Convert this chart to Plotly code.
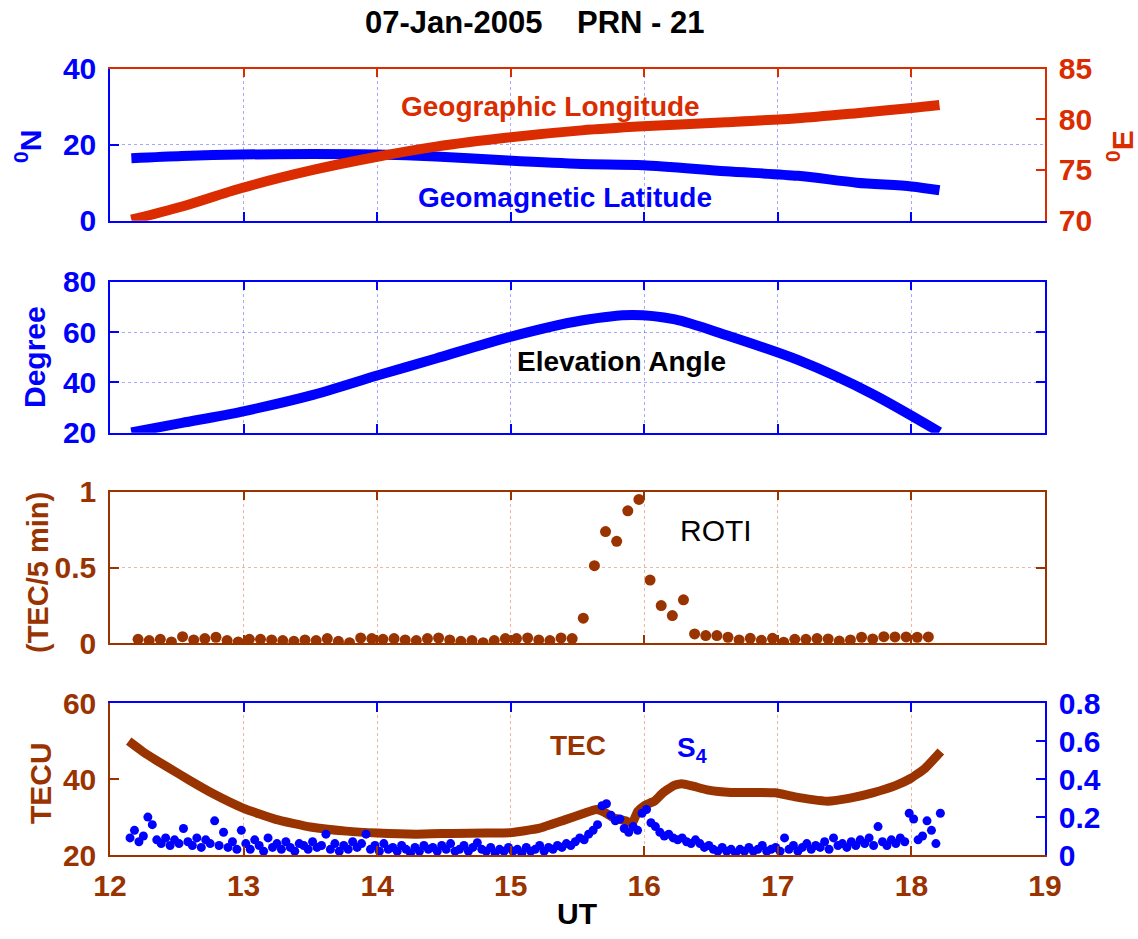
import plotly.graph_objects as go

# ---------------- data ----------------
# Panel 1: satellite track (UT hours)
track_ut = [12.16, 12.54, 12.98, 13.52, 14.00, 14.44, 14.98, 15.53, 15.99,
            16.61, 17.15, 17.59, 18.00, 18.21]
geomag_lat = [16.4, 17.0, 17.4, 17.5, 17.4, 16.9, 15.8, 14.9, 14.6,
              13.0, 11.8, 10.0, 9.0, 8.0]
geog_lon = [70.1, 71.4, 73.2, 75.0, 76.3, 77.3, 78.2, 78.9, 79.3,
            79.7, 80.1, 80.6, 81.1, 81.4]

# Panel 2: elevation angle
elev_ut = [12.16, 12.54, 12.98, 13.52, 14.00, 14.44, 14.98, 15.53, 15.91,
           16.23, 16.61, 17.15, 17.70, 18.21]
elevation = [20.1, 23.9, 28.3, 35.0, 42.7, 49.5, 57.9, 64.6, 66.8,
             65.0, 58.8, 48.9, 35.6, 20.3]

# Panel 3: ROTI, one value every 5 minutes starting 12.21 UT
roti_start = 12.21
roti_step_min = 5
roti = [0.026, 0.018, 0.026, 0.009, 0.044, 0.022, 0.031, 0.040, 0.018, 0.009,
        0.026, 0.026, 0.022, 0.018, 0.013, 0.022, 0.018, 0.031, 0.013, 0.004,
        0.035, 0.031, 0.026, 0.031, 0.022, 0.018, 0.031, 0.035, 0.022, 0.013,
        0.018, 0.004, 0.018, 0.031, 0.031, 0.035, 0.022, 0.018, 0.035, 0.031,
        0.166, 0.512, 0.737, 0.673, 0.874, 0.949, 0.417, 0.249, 0.183, 0.287,
        0.062, 0.051, 0.051, 0.040, 0.022, 0.033, 0.020, 0.033, 0.007, 0.026,
        0.026, 0.031, 0.029, 0.015, 0.022, 0.040, 0.029, 0.044, 0.042, 0.042,
        0.040, 0.042]

# Panel 4: vertical TEC (TECU)
tec_ut = [12.14, 12.24, 12.35, 12.45, 12.59, 12.77, 13.00, 13.24, 13.50, 13.77,
          14.00, 14.29, 14.56, 14.82, 15.00, 15.21, 15.40, 15.55, 15.64, 15.70,
          15.77, 15.86, 15.91, 15.95, 16.00, 16.08, 16.14, 16.22, 16.28, 16.36,
          16.48, 16.65, 16.84, 16.98, 17.12, 17.26, 17.37, 17.54, 17.71, 17.88,
          17.99, 18.10, 18.22]
tec = [50.0, 47.4, 44.9, 42.8, 39.8, 36.2, 32.3, 29.4, 27.4, 26.3,
       25.8, 25.5, 25.7, 25.8, 25.9, 27.0, 29.2, 31.0, 32.0, 31.3,
       29.8, 29.0, 28.4, 31.5, 33.0, 34.3, 36.4, 38.3, 38.8, 38.2,
       37.1, 36.5, 36.5, 36.4, 35.4, 34.6, 34.2, 35.0, 36.4, 38.3,
       40.1, 42.8, 47.3]

# Panel 4: amplitude scintillation index S4, one value every 2 minutes from 12.15 UT
s4_start = 12.15
s4_step_min = 2
s4 = [0.09, 0.13, 0.07, 0.10, 0.20, 0.16, 0.08, 0.06, 0.09, 0.05,
      0.08, 0.06, 0.14, 0.07, 0.05, 0.09, 0.04, 0.08, 0.06, 0.18,
      0.05, 0.12, 0.04, 0.07, 0.03, 0.13, 0.06, 0.03, 0.08, 0.05,
      0.02, 0.09, 0.04, 0.06, 0.03, 0.07, 0.04, 0.02, 0.06, 0.05,
      0.03, 0.07, 0.04, 0.05, 0.11, 0.03, 0.06, 0.02, 0.05, 0.03,
      0.07, 0.04, 0.06, 0.11, 0.03, 0.05, 0.02, 0.06, 0.03, 0.04,
      0.02, 0.05, 0.03, 0.01, 0.04, 0.02, 0.05, 0.03, 0.04, 0.02,
      0.05, 0.03, 0.06, 0.02, 0.03, 0.05, 0.02, 0.04, 0.065, 0.03,
      0.02, 0.04, 0.01, 0.03, 0.02, 0.04, 0.02, 0.03, 0.01, 0.04,
      0.02, 0.03, 0.05, 0.02, 0.04, 0.03, 0.05, 0.04, 0.06, 0.05,
      0.07, 0.09, 0.08, 0.11, 0.13, 0.16, 0.26, 0.27, 0.21, 0.18,
      0.19, 0.14, 0.12, 0.15, 0.13, 0.22, 0.24, 0.17, 0.15, 0.12,
      0.10, 0.11, 0.09, 0.08, 0.09, 0.07, 0.06, 0.08, 0.06, 0.04,
      0.05, 0.03, 0.02, 0.04, 0.02, 0.03, 0.01, 0.03, 0.02, 0.04,
      0.02, 0.03, 0.05, 0.02, 0.03, 0.04, 0.02, 0.09, 0.03, 0.05,
      0.02, 0.04, 0.06, 0.03, 0.05, 0.04, 0.07, 0.03, 0.09, 0.05,
      0.06, 0.04, 0.07, 0.05, 0.08, 0.06, 0.09, 0.05, 0.15, 0.07,
      0.05, 0.08, 0.06, 0.09, 0.07, 0.22, 0.19, 0.08, 0.10, 0.18,
      0.13, 0.06, 0.22]

roti_ut = [roti_start + i * roti_step_min / 60 for i in range(len(roti))]
s4_ut = [s4_start + i * s4_step_min / 60 for i in range(len(s4))]

# ---------------- styling ----------------
W, H = 1138, 939
FONT = "Liberation Sans"
BLUE = "#0000FF"
RED = "#DA2C00"
BROWN = "#993300"
BLACK = "#000000"
GRID_BLUE = "rgba(60,60,255,0.45)"
GRID_ORANGE = "rgba(230,120,90,0.55)"

X_DOM = [110 / W, 1045 / W]


def ydom(top_px, bottom_px):
    return [1 - bottom_px / H, 1 - top_px / H]


P1 = ydom(68.5, 220.7)
P2 = ydom(281.7, 432.7)
P3 = ydom(491.7, 643.3)
P4 = ydom(703.3, 855.0)

TICKFONT = dict(family=FONT, size=30, weight="bold")


def xaxis(anchor, color, labels=False, grid=None, side="bottom", overlay=None, mirror=False):
    d = dict(domain=X_DOM, anchor=anchor, range=[12, 19], tick0=12, dtick=1,
             ticks="inside", ticklen=9, tickwidth=1.5, tickcolor=color,
             showline=True, linecolor=color, linewidth=1.5, mirror=mirror,
             showticklabels=labels, tickfont=dict(TICKFONT, color=BROWN),
             ticklabelstandoff=3, automargin=False,
             showgrid=grid is not None, gridcolor=grid, griddash="dot", gridwidth=1,
             zeroline=False, fixedrange=True, side=side)
    if overlay:
        d["overlaying"] = overlay
    return d


def yaxis(anchor, dom, rng, dtick, color, grid=None, side="left", overlay=None, mirror=False):
    d = dict(domain=dom, anchor=anchor, range=rng, tick0=rng[0], dtick=dtick,
             ticks="inside", ticklen=9, tickwidth=1.5, tickcolor=color,
             showline=True, linecolor=color, linewidth=1.5, mirror=mirror,
             tickfont=dict(TICKFONT, color=color), ticklabelstandoff=6, automargin=False,
             showgrid=grid is not None, gridcolor=grid, griddash="dot", gridwidth=1,
             zeroline=False, fixedrange=True, side=side)
    if overlay:
        d["overlaying"] = overlay
    return d


fig = go.Figure()

# Panel 1
fig.add_trace(go.Scatter(x=track_ut, y=geomag_lat, mode="lines", xaxis="x", yaxis="y",
                         line=dict(color=BLUE, width=10, shape="spline", smoothing=0.8)))
fig.add_trace(go.Scatter(x=track_ut, y=geog_lon, mode="lines", xaxis="x2", yaxis="y2",
                         line=dict(color=RED, width=10, shape="spline", smoothing=0.8)))
# Panel 2
fig.add_trace(go.Scatter(x=elev_ut, y=elevation, mode="lines", xaxis="x3", yaxis="y3",
                         line=dict(color=BLUE, width=10, shape="spline", smoothing=0.8)))
# Panel 3
fig.add_trace(go.Scatter(x=roti_ut, y=roti, mode="markers", xaxis="x4", yaxis="y4",
                         marker=dict(color=BROWN, size=11, symbol="circle")))
# Panel 4
fig.add_trace(go.Scatter(x=tec_ut, y=tec, mode="lines", xaxis="x5", yaxis="y5",
                         line=dict(color=BROWN, width=9, shape="spline", smoothing=0.4)))
fig.add_trace(go.Scatter(x=s4_ut, y=s4, mode="markers", xaxis="x6", yaxis="y6",
                         marker=dict(color=BLUE, size=9, symbol="circle")))

fig.update_layout(
    width=W, height=H, margin=dict(l=0, r=0, t=0, b=0, pad=0, autoexpand=False),
    paper_bgcolor="white", plot_bgcolor="white", showlegend=False,
    xaxis=xaxis("y", BLUE, grid=GRID_BLUE),
    yaxis=yaxis("x", P1, [0, 40], 20, BLUE, grid=GRID_BLUE),
    xaxis2=xaxis("y", RED, side="top", overlay="x"),
    yaxis2=yaxis("x2", P1, [70, 85], 5, RED, side="right", overlay="y"),
    xaxis3=xaxis("y3", BLUE, grid=GRID_BLUE, mirror="ticks"),
    yaxis3=yaxis("x3", P2, [20, 80], 20, BLUE, grid=GRID_BLUE, mirror="ticks"),
    xaxis4=xaxis("y4", BROWN, grid=GRID_ORANGE, mirror="ticks"),
    yaxis4=yaxis("x4", P3, [0, 1], 0.5, BROWN, grid=GRID_ORANGE, mirror="ticks"),
    xaxis5=xaxis("y5", BROWN, labels=True, grid=GRID_ORANGE),
    yaxis5=yaxis("x5", P4, [20, 60], 20, BROWN),
    xaxis6=xaxis("y5", BLUE, side="top", overlay="x5"),
    yaxis6=yaxis("x6", P4, [0, 0.8], 0.2, BLUE, side="right", overlay="y5"),
)


def paper(xp, yp):
    return xp / W, 1 - yp / H


def label(text, xp, yp, color, size=30, weight="bold", angle=0):
    x, y = paper(xp, yp)
    fig.add_annotation(text=text, x=x, y=y, xref="paper", yref="paper",
                       xanchor="center", yanchor="middle", showarrow=False,
                       textangle=angle,
                       font=dict(family=FONT, size=size, color=color, weight=weight))


# title and axis titles
label("07-Jan-2005&nbsp;&nbsp;&nbsp;&nbsp;PRN - 21", 534, 22, BLACK, size=31)
label("UT", 577, 913, BLACK)
label("<sup>0</sup>N", 28, 147, BLUE, angle=-90)
label("<sup>0</sup>E", 1120, 146, RED, angle=-90)
label("Degree", 35, 357, BLUE, angle=-90)
label("(TEC/5 min)", 38, 573, BROWN, size=29, angle=-90)
label("TECU", 40, 783, BROWN, angle=-90)


def inner(text, x, y, xref, yref, color, size=28, weight="bold"):
    fig.add_annotation(text=text, x=x, y=y, xref=xref, yref=yref,
                       xanchor="center", yanchor="middle", showarrow=False,
                       font=dict(family=FONT, size=size, color=color, weight=weight))


inner("Geographic Longitude", 15.30, 81.3, "x2", "y2", RED)
inner("Geomagnetic Latitude", 15.41, 6.0, "x", "y", BLUE)
inner("Elevation Angle", 15.83, 48.1, "x3", "y3", BLACK)
inner("ROTI", 16.54, 0.747, "x4", "y4", BLACK, size=30, weight="normal")
inner("TEC", 15.50, 49.0, "x5", "y5", BROWN)
inner("S<sub>4</sub>", 16.36, 0.554, "x6", "y6", BLUE)

fig.write_html("out.html")
